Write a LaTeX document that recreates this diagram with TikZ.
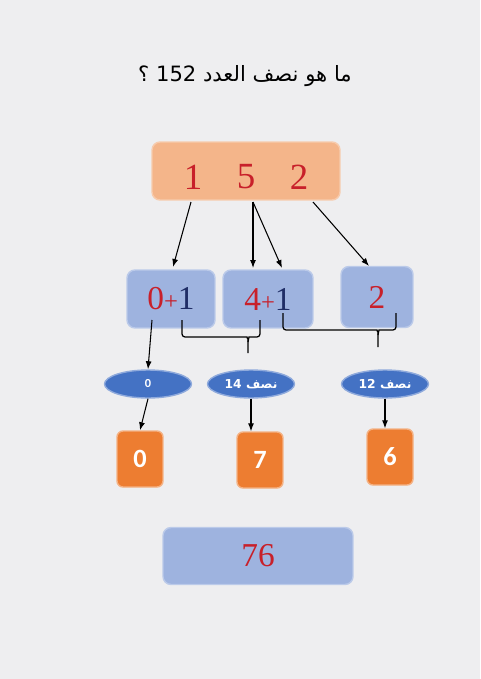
\documentclass[tikz,border=0pt]{standalone}
\usepackage{fontspec}
\setmainfont{Liberation Serif}
\newfontfamily\arabicfont[Script=Arabic]{DejaVu Sans}
\newfontfamily\calfont{Carlito}
\TeXXeTstate=1
\usepackage{xcolor}
\usetikzlibrary{positioning,arrows.meta,shapes.geometric}

\definecolor{pagebg}{HTML}{EEEEF0}
\definecolor{peach}{HTML}{F4B58A}
\definecolor{paleblue}{HTML}{9EB3DF}
\definecolor{midblue}{HTML}{4472C4}
\definecolor{orng}{HTML}{ED7D31}
\definecolor{numred}{HTML}{C8202A}
\definecolor{numblue}{HTML}{1F2D66}

\begin{document}
\begin{tikzpicture}[x=0.02cm, y=-0.02cm,
  topbox/.style={draw=peach!70!white, line width=0.8pt, rounded corners=0.16cm, fill=peach, minimum width=3.76cm, minimum height=1.16cm},
  digbox/.style={draw=paleblue!70!white, line width=0.8pt, rounded corners=0.16cm, fill=paleblue, minimum height=1.16cm, font=\fontsize{19}{19}\selectfont},
  halfoval/.style={ellipse, draw=midblue!60!white, line width=0.8pt, fill=midblue, minimum width=1.74cm, minimum height=0.56cm, inner sep=0.5pt, text=white, font=\fontsize{7}{8}\selectfont\bfseries},
  resbox/.style={draw=orng!60!white, line width=0.8pt, rounded corners=0.12cm, fill=orng, minimum width=0.92cm, minimum height=1.12cm, text=white, font=\calfont\fontsize{15}{15}\selectfont\bfseries},
  digit/.style={text=numred, font=\fontsize{21}{21}\selectfont, inner sep=0pt},
  arr/.style={-{Latex[length=1.6mm, width=1.2mm]}, line width=0.6pt},
  brace/.style={line width=0.7pt, rounded corners=0.06cm}
]
\fill[pagebg] (0,0) rectangle (480,679);
\useasboundingbox (0,0) rectangle (480,679);

\node (title) at (245,76) {\arabicfont\fontsize{12}{12}\selectfont\beginR ما هو نصف العدد \beginL152\endL{} ؟\endR};

\node[topbox] (top) at (246,171) {};
\node[digit] (d1) at (193,177) {1};
\node[digit] (d5) at (246,177) {5};
\node[digit] (d2) at (299,177) {2};

\node[digbox, minimum width=1.76cm] (bxa) at (171,299) {{\color{numred}0{\fontsize{14}{14}\selectfont+}}{\color{numblue}1}};
\node[digbox, minimum width=1.8cm] (bxb) at (268,299) {{\color{numred}4{\fontsize{14}{14}\selectfont+}}{\color{numblue}1}};
\node[digbox, minimum width=1.44cm, minimum height=1.22cm] (bxc) at (377,297) {\color{numred}2};

\node[halfoval] (e1) at (148,384) {\calfont\bfseries 0};
\node[halfoval] (e2) at (251,384) {\arabicfont\bfseries\beginR نصف \beginL14\endL\endR};
\node[halfoval] (e3) at (385,384) {\arabicfont\bfseries\beginR نصف \beginL12\endL\endR};

\node[resbox] (o1) at (140,459) {0};
\node[resbox] (o2) at (260,460) {7};
\node[resbox] (o3) at (390,457) {6};

\node[digbox, minimum width=3.8cm, minimum height=1.14cm] (total) at (258,556) {\color{numred}76};

\coordinate (s1) at (191,202);
\coordinate (s5) at (253,202);
\coordinate (s2) at (313,202);
\coordinate (ina) at (173,267);
\coordinate (inb1) at (253,268);
\coordinate (inb2) at (282,268);
\coordinate (inc) at (369,266);

\draw[arr] (s1) -- (ina);
\draw[arr] (s5) -- (inb1);
\draw[arr] (s5) -- (inb2);
\draw[arr] (s2) -- (inc);

\coordinate (a0) at (152,320);
\draw[arr] (a0) -- (e1.north);

\coordinate (ba) at (182,320);
\coordinate (bb) at (260,320);
\coordinate (btip) at (248,353);
\draw[brace] (ba) |- (244,337) to[out=0,in=90] (btip |- 0,342) -- (btip);
\draw[brace] (bb) |- (252,337) to[out=180,in=90] (btip |- 0,342);

\coordinate (bc) at (283,313);
\coordinate (bd) at (396,313);
\coordinate (btip2) at (378,347);
\draw[brace] (bc) |- (374,330) to[out=0,in=90] (btip2 |- 0,335) -- (btip2);
\draw[brace] (bd) |- (382,330) to[out=180,in=90] (btip2 |- 0,335);

\draw[arr] (e1.south) -- (o1.north);
\draw[arr] (e2.south) -- (e2.south |- o2.north);
\draw[arr] (e3.south) -- (e3.south |- o3.north);
\end{tikzpicture}
\end{document}
